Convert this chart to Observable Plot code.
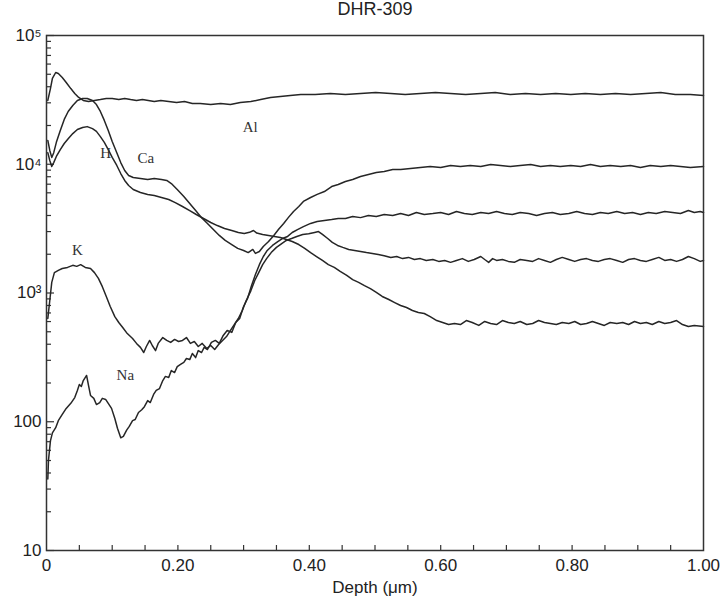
<!DOCTYPE html>
<html>
<head>
<meta charset="utf-8">
<script src="https://cdn.jsdelivr.net/npm/d3@7"></script>
<script src="https://cdn.jsdelivr.net/npm/@observablehq/plot@0.6"></script>
<style>
  html, body { margin: 0; padding: 0; background: #fff; }
  #chart svg { display: block; }
</style>
</head>
<body>
<div id="chart"></div>
<script>
// ---------- data (depth in µm, concentration) ----------
const title = "DHR-309";
const xLabel = "Depth (μm)";
const xTicks = [0, 0.2, 0.4, 0.6, 0.8, 1.0];
const xTickLabels = ["0", "0.20", "0.40", "0.60", "0.80", "1.00"];
const yTicks = [10, 100, 1000, 10000, 100000];
const yTickLabels = ["10", "100", "10³", "10⁴", "10⁵"];

const al = [
  [0.002,31300],[0.006,38700],[0.009,46400],[0.014,51600],[0.018,50700],[0.024,47200],[0.030,43200],
  [0.037,38700],[0.043,35500],[0.049,33000],[0.056,31300],[0.064,30700],[0.073,31300],[0.082,31800],
  [0.091,32400],[0.100,32400],[0.110,31800],[0.119,32400],[0.128,31800],[0.137,31300],[0.146,31800],
  [0.155,31300],[0.164,30700],[0.174,31300],[0.186,30700],[0.198,30200],[0.210,30700],[0.222,29600],
  [0.234,29600],[0.250,29100],[0.265,29600],[0.280,29100],[0.295,30200],[0.311,30700],[0.326,31800],
  [0.341,33000],[0.356,33600],[0.371,34200],[0.387,34800],[0.409,34800],[0.432,35400],[0.455,34800],
  [0.478,35400],[0.501,36100],[0.524,35400],[0.546,34800],[0.569,35400],[0.592,36100],[0.615,35400],
  [0.638,34800],[0.661,35400],[0.683,36100],[0.706,34800],[0.729,35400],[0.752,34800],[0.775,35400],
  [0.798,34800],[0.820,35400],[0.843,34800],[0.866,35400],[0.889,34800],[0.912,35400],[0.935,36100],
  [0.957,34800],[0.980,34800],[1.000,34200]
];

const ca = [
  [0.002,15300],[0.005,12800],[0.008,11300],[0.011,12300],[0.015,14800],[0.021,18300],[0.027,22300],
  [0.033,25700],[0.040,28600],[0.047,31300],[0.055,32400],[0.062,32400],[0.070,31300],[0.076,29100],
  [0.082,25700],[0.088,21900],[0.094,18300],[0.100,15000],[0.107,12300],[0.113,10300],[0.119,8940],
  [0.125,8180],[0.132,7890],[0.143,7750],[0.154,7620],[0.164,7750],[0.175,7620],[0.183,7480],
  [0.190,7080],[0.199,6370],[0.209,5620],[0.218,4960],[0.227,4370],[0.236,3850],[0.245,3470],
  [0.254,3110],[0.263,2800],[0.272,2560],[0.282,2380],[0.291,2220],[0.300,2140],[0.307,2060],
  [0.314,2180],[0.318,2030],[0.324,2100],[0.330,2300],[0.338,2510],[0.346,2800],[0.353,3110],
  [0.361,3470],[0.368,3850],[0.376,4300],[0.384,4700],[0.391,5140],[0.402,5520],[0.412,5830],
  [0.423,6140],[0.434,6710],[0.444,6960],[0.455,7350],[0.466,7620],[0.478,8040],[0.490,8330],
  [0.502,8630],[0.514,8790],[0.527,9100],[0.539,9100],[0.554,9270],[0.569,9430],[0.584,9610],
  [0.600,9430],[0.615,9780],[0.630,9610],[0.645,9780],[0.661,9610],[0.676,9960],[0.691,9780],
  [0.706,9610],[0.721,9780],[0.737,9960],[0.752,9610],[0.767,9780],[0.782,9610],[0.798,9780],
  [0.813,9610],[0.828,9960],[0.843,9610],[0.858,9780],[0.874,9610],[0.889,9780],[0.904,9430],
  [0.919,9780],[0.935,9610],[0.950,9780],[0.965,9610],[0.980,9430],[1.000,9610]
];

const h = [
  [0.002,12300],[0.005,10700],[0.008,9610],[0.011,10300],[0.015,11500],[0.021,13000],[0.027,14500],
  [0.033,15800],[0.040,17300],[0.047,18600],[0.055,19300],[0.062,19600],[0.070,18900],[0.076,18000],
  [0.082,16400],[0.088,14800],[0.094,13000],[0.100,11300],[0.107,9780],[0.113,8470],[0.119,7480],
  [0.125,6840],[0.132,6370],[0.143,6040],[0.154,5830],[0.164,5710],[0.175,5520],[0.186,5320],
  [0.196,5040],[0.207,4700],[0.218,4370],[0.228,4070],[0.239,3790],[0.250,3530],[0.260,3340],
  [0.271,3170],[0.282,3060],[0.292,2950],[0.301,2900],[0.309,2960],[0.315,3060],[0.320,2920],
  [0.329,2850],[0.338,2800],[0.347,2750],[0.356,2700],[0.365,2600],[0.374,2510],[0.384,2380],
  [0.393,2220],[0.402,2060],[0.411,1920],[0.420,1790],[0.429,1660],[0.438,1580],[0.447,1470],
  [0.457,1370],[0.466,1270],[0.475,1210],[0.484,1140],[0.493,1080],[0.502,1010],[0.511,940],
  [0.521,890],[0.530,843],[0.539,800],[0.548,771],[0.557,731],[0.566,706],[0.575,693],[0.584,656],
  [0.594,611],[0.603,590],[0.612,569],[0.621,580],[0.630,569],[0.639,611],[0.648,590],[0.658,560],
  [0.667,601],[0.676,580],[0.685,569],[0.694,611],[0.703,590],[0.712,580],[0.721,601],[0.731,569],
  [0.740,580],[0.749,611],[0.758,590],[0.767,580],[0.776,569],[0.785,590],[0.795,580],[0.804,601],
  [0.813,569],[0.822,580],[0.831,601],[0.840,580],[0.849,560],[0.858,590],[0.868,580],[0.877,590],
  [0.886,569],[0.895,601],[0.904,580],[0.913,590],[0.922,569],[0.932,601],[0.941,580],[0.950,590],
  [0.959,611],[0.968,569],[0.977,549],[0.986,560],[1.000,549]
];

const k = [
  [0.002,634],[0.005,875],[0.008,1210],[0.012,1440],[0.018,1500],[0.024,1550],[0.032,1580],
  [0.040,1640],[0.046,1610],[0.052,1660],[0.059,1580],[0.067,1550],[0.073,1440],[0.079,1300],
  [0.085,1120],[0.091,940],[0.097,785],[0.104,656],[0.110,590],[0.116,540],[0.123,484],[0.131,443],
  [0.137,406],[0.143,378],[0.148,345],[0.152,384],[0.157,428],[0.161,391],[0.166,357],[0.170,406],
  [0.177,451],[0.183,428],[0.189,413],[0.195,436],[0.201,420],[0.207,428],[0.213,451],[0.219,406],
  [0.225,420],[0.231,384],[0.237,406],[0.244,371],[0.250,391],[0.256,364],[0.262,398],[0.268,428],
  [0.274,459],[0.280,512],[0.286,569],[0.292,634],[0.298,731],[0.304,875],[0.311,1040],[0.317,1250],
  [0.323,1440],[0.329,1660],[0.335,1850],[0.342,2060],[0.350,2260],[0.358,2420],[0.365,2560],
  [0.373,2650],[0.381,2750],[0.390,2850],[0.399,2880],[0.408,2950],[0.414,3000],[0.420,2850],
  [0.428,2650],[0.435,2470],[0.443,2340],[0.451,2260],[0.460,2180],[0.469,2140],[0.478,2100],
  [0.487,2060],[0.496,2030],[0.505,1990],[0.514,1950],[0.524,1890],[0.533,1920],[0.542,1850],
  [0.551,1890],[0.560,1820],[0.569,1850],[0.578,1790],[0.588,1820],[0.597,1760],[0.606,1790],
  [0.615,1730],[0.624,1790],[0.633,1850],[0.642,1760],[0.651,1820],[0.661,1920],[0.667,1820],
  [0.673,1730],[0.679,1850],[0.685,1790],[0.694,1820],[0.703,1760],[0.712,1730],[0.721,1820],
  [0.731,1790],[0.740,1760],[0.749,1850],[0.758,1790],[0.767,1730],[0.776,1820],[0.785,1890],
  [0.795,1820],[0.804,1760],[0.813,1820],[0.822,1850],[0.831,1790],[0.840,1760],[0.849,1820],
  [0.858,1850],[0.868,1790],[0.877,1730],[0.886,1820],[0.895,1850],[0.904,1790],[0.913,1760],
  [0.922,1820],[0.932,1890],[0.941,1790],[0.950,1820],[0.959,1760],[0.968,1820],[0.977,1920],
  [0.986,1850],[0.995,1760],[1.000,1790]
];

const na = [
  [0.002,36],[0.003,50],[0.006,71],[0.009,82],[0.014,90],[0.018,102],[0.024,114],[0.030,127],
  [0.037,139],[0.043,154],[0.047,175],[0.050,195],[0.053,188],[0.056,209],[0.061,229],[0.064,191],
  [0.067,160],[0.072,152],[0.076,136],[0.081,141],[0.085,152],[0.090,149],[0.094,139],[0.099,127],
  [0.104,106],[0.108,89],[0.113,75],[0.117,77],[0.122,86],[0.126,92],[0.131,102],[0.135,104],
  [0.140,118],[0.145,124],[0.149,131],[0.154,146],[0.158,141],[0.163,163],[0.167,175],[0.172,181],
  [0.177,209],[0.181,225],[0.186,221],[0.190,250],[0.195,241],[0.199,268],[0.204,279],[0.209,289],
  [0.213,310],[0.218,304],[0.222,339],[0.227,315],[0.231,357],[0.236,345],[0.240,378],[0.245,364],
  [0.251,413],[0.257,428],[0.263,406],[0.269,468],[0.275,512],[0.282,494],[0.288,590],[0.294,634],
  [0.300,785],[0.306,906],[0.312,1140],[0.318,1390],[0.324,1660],[0.330,1920],[0.336,2140],
  [0.344,2340],[0.352,2510],[0.359,2650],[0.367,2750],[0.374,2950],[0.382,3110],[0.391,3280],
  [0.402,3470],[0.412,3590],[0.423,3660],[0.434,3720],[0.444,3790],[0.455,3790],[0.466,3930],
  [0.478,3850],[0.490,4000],[0.502,3930],[0.514,4070],[0.527,4000],[0.539,4140],[0.551,4000],
  [0.563,4220],[0.575,4070],[0.588,4140],[0.600,4220],[0.612,4070],[0.624,4300],[0.636,4140],
  [0.648,4070],[0.661,4220],[0.673,4140],[0.685,4300],[0.697,4140],[0.709,4070],[0.721,4220],
  [0.734,4140],[0.746,4000],[0.758,4140],[0.770,4220],[0.782,4070],[0.795,4140],[0.807,4300],
  [0.819,4140],[0.831,4070],[0.843,4220],[0.855,4140],[0.868,4300],[0.880,4140],[0.892,4220],
  [0.904,4070],[0.916,4220],[0.928,4140],[0.941,4300],[0.953,4220],[0.965,4140],[0.977,4370],
  [0.986,4220],[0.995,4300],[1.000,4220]
];

const seriesNames = ["Al", "H", "Ca", "K", "Na"];
const labelDepth = [0.31, 0.090, 0.151, 0.047, 0.120];
const labelValue = [19300, 12100, 11100, 2140, 229];

// ---------- chart ----------
const W = 725, H = 603, ML = 46, MR = 22, MT = 35, MB = 53;
const plotW = W - ML - MR, plotH = H - MT - MB;
const xDomain = [0, 1], yDomain = [10, 100000];

const seriesData = [al, h, ca, k, na];
const labels = seriesNames.map((n, i) => ({name: n, depth: labelDepth[i], value: labelValue[i]}));

const minorY = [];
for (let e = 1; e < 5; e++) for (let m = 2; m <= 9; m++) minorY.push(m * Math.pow(10, e));
const minorX = d3.range(1, 20).map(i => i * 0.05);

// tick lengths expressed through the scales (pixels -> domain units)
const xPerPx = (xDomain[1] - xDomain[0]) / plotW;
const logPerPx = Math.log10(yDomain[1] / yDomain[0]) / plotH;
const yTickEnd = (px) => yDomain[0] * Math.pow(10, px * logPerPx);

const lineStyle = {x: d => d[0], y: d => d[1], stroke: "#262626", strokeWidth: 1.5};
const tickStroke = "#333";

const chart = Plot.plot({
  width: W,
  height: H,
  marginLeft: ML,
  marginRight: MR,
  marginTop: MT,
  marginBottom: MB,
  style: {fontFamily: "'Liberation Sans', Arial, Helvetica, sans-serif", fontSize: "17px", color: "#222", background: "#fff"},
  x: {domain: xDomain},
  y: {type: "log", domain: yDomain},
  marks: [
    Plot.ruleY(minorY, {y: d => d, x1: xDomain[0], x2: xDomain[0] + 5 * xPerPx, stroke: tickStroke, strokeWidth: 1.2}),
    Plot.ruleY(yTicks, {y: d => d, x1: xDomain[0], x2: xDomain[0] + 8 * xPerPx, stroke: tickStroke, strokeWidth: 1.2}),
    Plot.ruleX(minorX, {x: d => d, y1: yDomain[0], y2: yTickEnd(5), stroke: tickStroke, strokeWidth: 1.2}),
    ...seriesData.map(s => Plot.line(s, lineStyle)),
    Plot.text(labels, {x: "depth", y: "value", text: "name", fontFamily: "'Liberation Serif', 'Times New Roman', serif", fontSize: 15, fill: "#333"}),
    Plot.frame({stroke: "#333", strokeWidth: 1.5}),
    Plot.axisY(yTicks, {tickSize: 0, tickPadding: 5, tickFormat: d => yTickLabels[yTicks.indexOf(d)], label: null, fontSize: 17}),
    Plot.axisX(xTicks, {tickSize: 0, tickPadding: 8, tickFormat: d => xTickLabels[xTicks.indexOf(d)], label: null, fontSize: 17}),
    Plot.text([xLabel], {text: d => d, frameAnchor: "bottom", dy: 42, fontSize: 17, fill: "#222"}),
    Plot.text([title], {text: d => d, frameAnchor: "top", dy: -33, fontSize: 18, fill: "#222"})
  ]
});
document.getElementById("chart").appendChild(chart);
</script>
</body>
</html>
